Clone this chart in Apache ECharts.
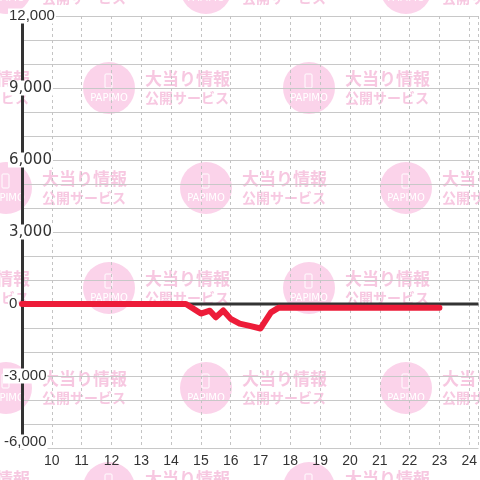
<!DOCTYPE html>
<html>
<head>
<meta charset="utf-8">
<script src="https://cdn.jsdelivr.net/npm/echarts@6/dist/echarts.min.js"></script>
<style>
html,body{margin:0;padding:0;background:#fff;}
#c{width:480px;height:480px;}
</style>
</head>
<body>
<div id="c"></div>
<script>
// ---- data ----
const hours  = [9, 14.5, 15.0, 15.3, 15.5, 15.75, 16.0, 16.3, 16.6, 17.0, 17.35, 17.6, 23];
const values = [0, 0, -400, -280, -550, -270, -620, -820, -900, -1020, -350, -160, -160];
const xTickLabels = ['10','11','12','13','14','15','16','17','18','19','20','21','22','23','24'];
const yTickLabels = ['-6,000','-3,000','0','3,000','6,000','9,000','12,000'];
const xMin = 9, xMax = 24.31;
const yMin = -6000, yMax = 12000;

// ---- watermark ----
const wm = [];
const circleColor = '#fbd3ea', textColor = '#f7c8e1';
for (let r = 0; r < 6; r++) {
  const cy = -12 + 100 * r;
  const x0 = (r % 2 === 1) ? 109 : 6;
  for (let k = -1; k < 3; k++) {
    const cx = x0 + 200 * k;
    wm.push({type:'circle', z:-10, silent:true, shape:{cx:cx, cy:cy, r:26}, style:{fill:circleColor}});
    wm.push({type:'rect', z:-10, silent:true, shape:{x:cx-4, y:cy-14, width:7, height:14, r:1}, style:{fill:'none', stroke:'#fff', lineWidth:1}});
    wm.push({type:'text', z:-10, silent:true, x:cx, y:cy+10, style:{text:'PAPIMO', fill:'#fff', font:'10px "DejaVu Sans"', align:'center', verticalAlign:'middle'}});
    wm.push({type:'text', z:-10, silent:true, x:cx+36, y:cy-9, style:{text:'大当り情報', fill:textColor, font:'bold 17px "Noto Sans CJK JP"', align:'left', verticalAlign:'middle'}});
    wm.push({type:'text', z:-10, silent:true, x:cx+36, y:cy+10, style:{text:'公開サービス', fill:textColor, font:'bold 14px "Noto Sans CJK JP"', align:'left', verticalAlign:'middle'}});
  }
}

const baseFont = '"Liberation Sans", Arial, sans-serif';
const chart = echarts.init(document.getElementById('c'), null, {renderer:'canvas'});
chart.setOption({
  backgroundColor:'#fff',
  animation:false,
  graphic: wm,
  grid:{left:20.7, right:0, top:16, bottom:32, containLabel:false},
  xAxis:{
    type:'value', min:xMin, max:xMax, interval:1,
    axisLine:{show:false, onZero:false}, axisTick:{show:false},
    axisLabel:{
      color:'#333', fontSize:14, fontFamily:baseFont, margin:6,
      showMinLabel:false, showMaxLabel:false,
      formatter:function(v){ const i = Math.round(v) - 10; return (Number.isInteger(v) && i >= 0 && i < xTickLabels.length) ? xTickLabels[i] : ''; }
    },
    splitLine:{show:true, lineStyle:{color:'#c4c4c4', width:1, type:[3,3]}}
  },
  yAxis:[{
    type:'value', min:yMin, max:yMax, interval:1000, position:'left',
    axisLine:{show:false}, axisTick:{show:false}, axisLabel:{show:false},
    splitLine:{show:true, lineStyle:{color:'#c8c8c8', width:1}}
  },{
    type:'value', min:yMin, max:yMax, interval:3000, position:'left', offset:0,
    axisLine:{show:true, lineStyle:{color:'#333', width:3}}, axisTick:{show:false},
    splitLine:{show:false},
    axisLabel:{
      color:'#333', fontSize:15, fontFamily:baseFont,
      align:'left', margin:19,
      formatter:function(v){
        const i = Math.round((v - yMin)/3000);
        const t = yTickLabels[i];
        if (i === 0) return '{a|' + t + '}\n{e| }';
        if (v < 0) return '{a|' + t + '}';
        if (v === 0) return '{p| }{z|' + t + '}';
        if (v < 10000) return '{p| }{w|' + t + '}';
        return '{p| }{a|' + t + '}';
      },
      rich:{
        a:{color:'#333', fontSize:15, fontFamily:baseFont, backgroundColor:'#fff', padding:[0,1], lineHeight:15, height:15},
        z:{color:'#333', fontSize:15, fontFamily:baseFont, backgroundColor:'#fff', padding:[0,1], lineHeight:15, height:15},
        w:{color:'#333', fontSize:15, fontFamily:'"DejaVu Sans", sans-serif', backgroundColor:'#fff', padding:[0,1], lineHeight:15, height:15},
        p:{fontSize:1, width:5, lineHeight:15, height:15},
        e:{fontSize:1, lineHeight:12, height:12}
      }
    }
  }],
  series:[{
    name:'baseline', type:'line', yAxisIndex:0, z:1, silent:true,
    data:[[xMin,0],[xMax,0]], symbol:'none',
    lineStyle:{color:'#333', width:3}
  },{
    name:'diff', type:'line', yAxisIndex:0, z:3,
    data: hours.map((h,i)=>[h, values[i]]), symbol:'none',
    lineStyle:{color:'#ed1c39', width:6, cap:'round', join:'round'}
  }]
});
</script>
</body>
</html>
